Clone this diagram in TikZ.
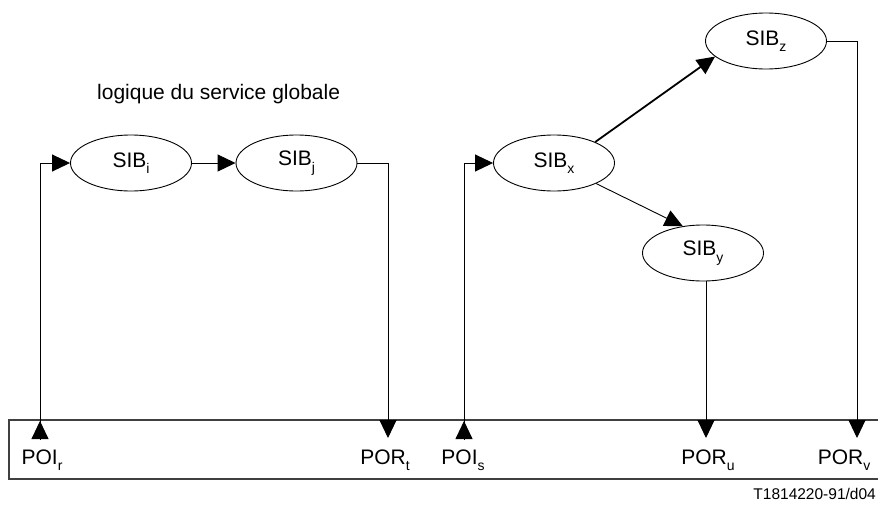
\documentclass[tikz,border=0pt]{standalone}
\usepackage{fontspec}
\setmainfont{Liberation Sans}
\usetikzlibrary{shapes.geometric,arrows.meta}
\newcommand\mysub[1]{\raisebox{-6.5pt}{\fontsize{14}{14}\selectfont #1}}
\tikzset{
  sib/.style={draw, ellipse, minimum width=121pt, minimum height=56pt, inner sep=0pt, line width=0.9pt, font=\fontsize{21}{24}\selectfont},
  conn/.style={line width=0.9pt, -{Triangle[length=18pt,width=17pt]}},
  thickconn/.style={line width=1.8pt, -{Triangle[length=18pt,width=17pt]}},
  lbl/.style={anchor=base, inner sep=0pt, font=\fontsize{21}{24}\selectfont},
}
\begin{document}
\begin{tikzpicture}[x=1pt,y=-1pt]
\useasboundingbox (0,0) rectangle (878,504);
% frame
\draw[line width=1.4pt, draw=black!75] (9,420) rectangle (885,479);
% texts
\node[anchor=base west, inner sep=0pt, font=\fontsize{21}{24}\selectfont] (title) at (97,99) {logique du service globale};
\node[anchor=base east, inner sep=0pt, font=\fontsize{15.5}{18}\selectfont] (code) at (876,499) {T1814220-91/d04};
% SIBs
\node[sib] (sibi) at (131,163) {SIB\mysub{i}};
\node[sib] (sibj) at (296.5,163) {SIB\mysub{j}};
\node[sib] (sibx) at (554,163) {SIB\mysub{x}};
\node[sib] (siby) at (703,253) {SIB\mysub{y}};
\node[sib] (sibz) at (766,41) {SIB\mysub{z}};
% ports
\coordinate (poir) at (40,439);
\coordinate (poirt) at (40,421);
\coordinate (port) at (388,438);
\coordinate (pois) at (464,439);
\coordinate (poist) at (464,421);
\coordinate (poru) at (706,438);
\coordinate (porv) at (857,438);
\node[lbl] (lpoir) at (42,464) {POI\mysub{r}};
\node[lbl] (lport) at (385,464) {POR\mysub{t}};
\node[lbl] (lpois) at (463,464) {POI\mysub{s}};
\node[lbl] (lporu) at (708,464) {POR\mysub{u}};
\node[lbl] (lporv) at (844,464) {POR\mysub{v}};
% connectors
\draw[conn] (poir) |- (sibi.west);
\draw[conn] (poir) -- (poirt);
\draw[conn] (sibi) -- (sibj);
\draw[conn] (sibj.east) -| (port);
\draw[conn] (pois) |- (sibx.west);
\draw[conn] (pois) -- (poist);
\draw[thickconn] (sibx.27) -- (sibz.197);
\draw[conn] (sibx.-26) -- (siby.127);
\draw[conn] (siby.south) ++(3,0) coordinate (ys) -- (ys |- poru);
\draw[conn] (sibz.east) -| (porv);
\end{tikzpicture}
\end{document}
